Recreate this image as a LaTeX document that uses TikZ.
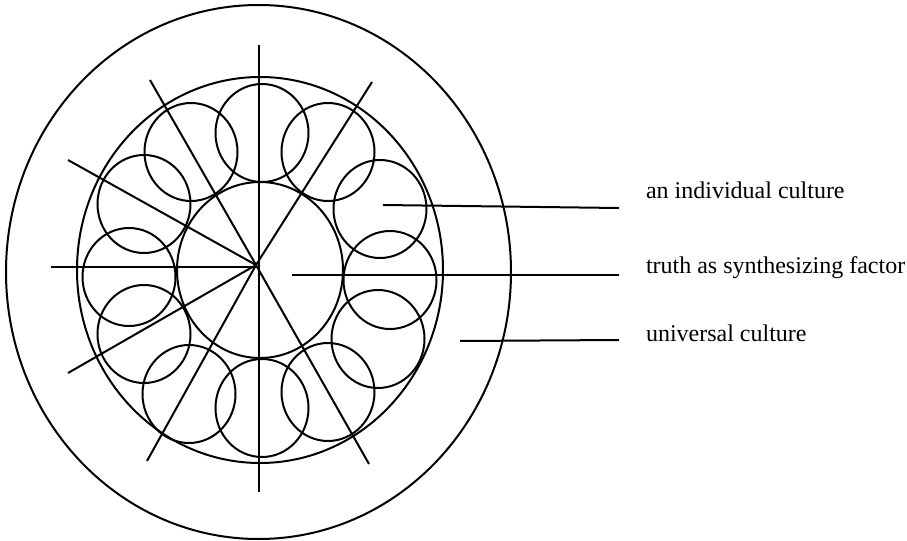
\documentclass[tikz,border=0pt]{standalone}
\usepackage{fontspec}
\setmainfont{Liberation Serif}
\usetikzlibrary{shapes.geometric}

\begin{document}
\begin{tikzpicture}[
  x=0.5pt, y=-0.5pt,
  line width=1pt,
  ring/.style={ellipse, draw, inner sep=0pt, outer sep=0pt},
  culture/.style={ring, minimum width=46.5pt, minimum height=49pt},
  lead/.style={line width=1pt},
  lbl/.style={anchor=base west, inner sep=0pt, font=\fontsize{12}{14}\selectfont},
]
\useasboundingbox (0,0) rectangle (907,541);

% Outer and inner rings
\node[ring, minimum width=252.5pt, minimum height=267pt] (universal) at (258.5,272) {};
\node[ring, minimum width=183pt, minimum height=193pt] (inner) at (260,270) {};
\node[ring, minimum width=83pt, minimum height=88pt] (truth) at (260,270) {};

% Individual cultures
\foreach \n/\cx/\cy in {1/262/133, 2/328/152, 3/380/209, 4/390/280,
                        5/378/339, 6/328/392, 7/262/408, 8/189/394,
                        9/144/334, 10/129/277, 11/144/204, 12/191/152}
  \node[culture] (cult\n) at (\cx,\cy) {};

% Spokes
\coordinate (hub) at (256,265);
\coordinate (spa) at (150,80);
\coordinate (spb) at (68,160);
\coordinate (spc) at (68,373);
\coordinate (spd) at (147,461);
\coordinate (spe) at (372,82);
\coordinate (spf) at (369,464);
\coordinate (spg) at (51,267);
\foreach \n in {a,b,c,d,e,f}
  \draw (hub) -- (sp\n);
\draw (spg) -- (257,267);
\draw (259,45) -- (259,492);

% Labels
\node[lbl] (indlbl) at (645,198) {an individual culture};
\node[lbl] (truthlbl) at (645,273) {truth as synthesizing factor};
\node[lbl] (unilbl) at (645,341) {universal culture};

\coordinate (indpt) at (383,205);
\coordinate (indend) at (619,208);
\coordinate (truthpt) at (292,275);
\coordinate (truthend) at (619,275);
\coordinate (unipt) at (460,341);
\coordinate (uniend) at (619,340);

\draw[lead] (indpt) -- (indend);
\draw[lead] (truthpt) -- (truthend);
\draw[lead] (unipt) -- (uniend);

\end{tikzpicture}
\end{document}
